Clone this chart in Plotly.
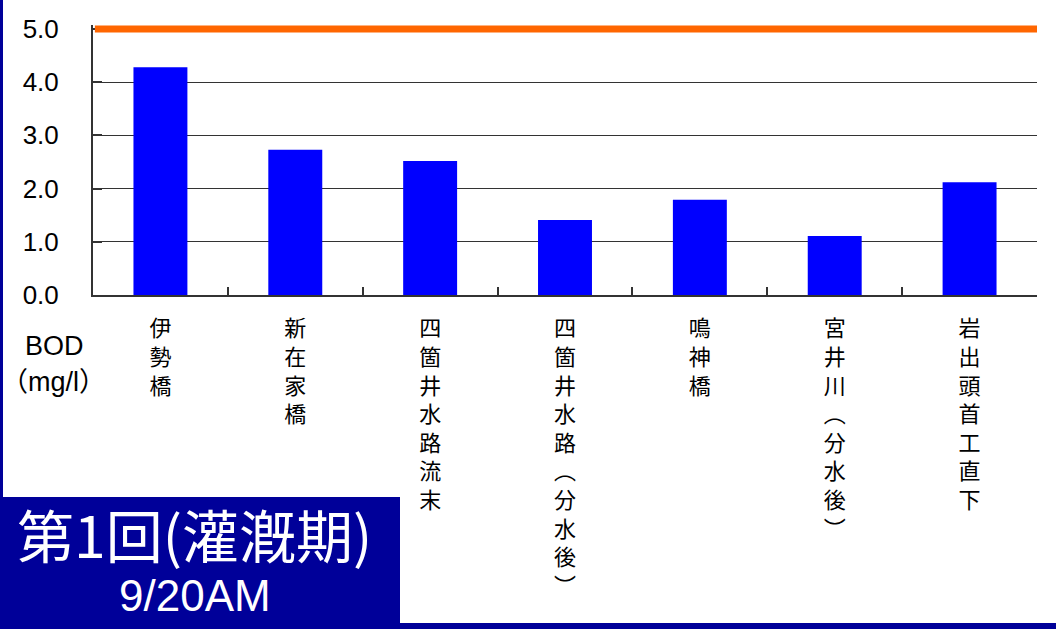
import plotly.graph_objects as go

# ---- data ----
categories = ["伊勢橋", "新在家橋", "四箇井水路流末", "四箇井水路︵分水後︶", "鳴神橋", "宮井川︵分水後︶", "岩出頭首工直下"]
bod_values = [4.28, 2.73, 2.52, 1.41, 1.79, 1.11, 2.12]
standard_value = 5.0
y_tickvals = [0, 1, 2, 3, 4, 5]
y_ticktext = ["0.0", "1.0", "2.0", "3.0", "4.0", "5.0"]
axis_label_lines = ["BOD", "（mg/l）"]
title_text = "第1回(灌漑期)"
date_text = "9/20AM"

W, H = 1056, 629
ML, MR, MT, MB = 93, 19, 25, 334
PW, PH = W - ML - MR, H - MT - MB


def vert(s):
    return "<br>".join(list(s))


def px_x(p):
    return (p - ML) / PW


def px_y(p):
    return (H - MB - p) / PH


NAVY = "#000099"

fig = go.Figure()
fig.add_trace(go.Bar(
    x=categories, y=bod_values,
    marker=dict(color="#0000FF", line=dict(width=0)),
    hoverinfo="skip",
))

shapes = [
    dict(type="line", xref="paper", yref="y", x0=0.002, x1=1, y0=standard_value, y1=standard_value,
         line=dict(color="#FF6600", width=7), layer="above"),
    dict(type="rect", xref="paper", yref="paper", x0=px_x(0), x1=px_x(400), y0=px_y(497), y1=px_y(629),
         fillcolor=NAVY, line=dict(width=0), layer="above"),
    dict(type="rect", xref="paper", yref="paper", x0=px_x(0), x1=px_x(3), y0=px_y(0), y1=px_y(629),
         fillcolor=NAVY, line=dict(width=0), layer="above"),
    dict(type="rect", xref="paper", yref="paper", x0=px_x(0), x1=px_x(1056), y0=px_y(623), y1=px_y(629),
         fillcolor=NAVY, line=dict(width=0), layer="above"),
]

annotations = [
    dict(text=axis_label_lines[0], xref="paper", yref="paper", x=px_x(54), y=px_y(346),
         showarrow=False, xanchor="center", yanchor="middle",
         font=dict(family="Liberation Sans, Arial", size=27, color="black")),
    dict(text=axis_label_lines[1], xref="paper", yref="paper", x=px_x(53), y=px_y(382),
         showarrow=False, xanchor="center", yanchor="middle",
         font=dict(family="Liberation Sans, Noto Sans CJK JP", size=27, color="black")),
    dict(text=title_text, xref="paper", yref="paper", x=px_x(194), y=px_y(533),
         showarrow=False, xanchor="center", yanchor="middle",
         font=dict(family="Noto Sans CJK JP", size=57, color="white")),
    dict(text=date_text, xref="paper", yref="paper", x=px_x(195), y=px_y(595),
         showarrow=False, xanchor="center", yanchor="middle",
         font=dict(family="Liberation Sans, Arial", size=44, color="white")),
]

fig.update_layout(
    width=W, height=H,
    margin=dict(l=ML, r=MR, t=MT, b=MB, pad=0),
    paper_bgcolor="white", plot_bgcolor="white",
    showlegend=False,
    bargap=0.6,
    shapes=shapes,
    annotations=annotations,
    xaxis=dict(
        type="category",
        tickmode="array",
        tickvals=categories,
        ticktext=[vert(c) for c in categories],
        tickson="boundaries",
        ticks="inside", ticklen=8, tickcolor="#333", tickwidth=2,
        showline=True, linecolor="#333", linewidth=2,
        showgrid=False, zeroline=False,
        tickangle=0,
        tickfont=dict(family="Noto Sans CJK JP", size=22, color="black"),
        ticklabelstandoff=13,
    ),
    yaxis=dict(
        range=[0, 5.075],
        tickmode="array", tickvals=y_tickvals, ticktext=y_ticktext,
        ticks="inside", ticklen=9, tickcolor="#333", tickwidth=2,
        showline=True, linecolor="#333", linewidth=2,
        showgrid=True, gridcolor="#333", gridwidth=1.3,
        zeroline=False,
        tickfont=dict(family="Liberation Sans, Arial", size=26, color="black"),
        ticklabelstandoff=27,
    ),
)

fig.write_html("out.html")
